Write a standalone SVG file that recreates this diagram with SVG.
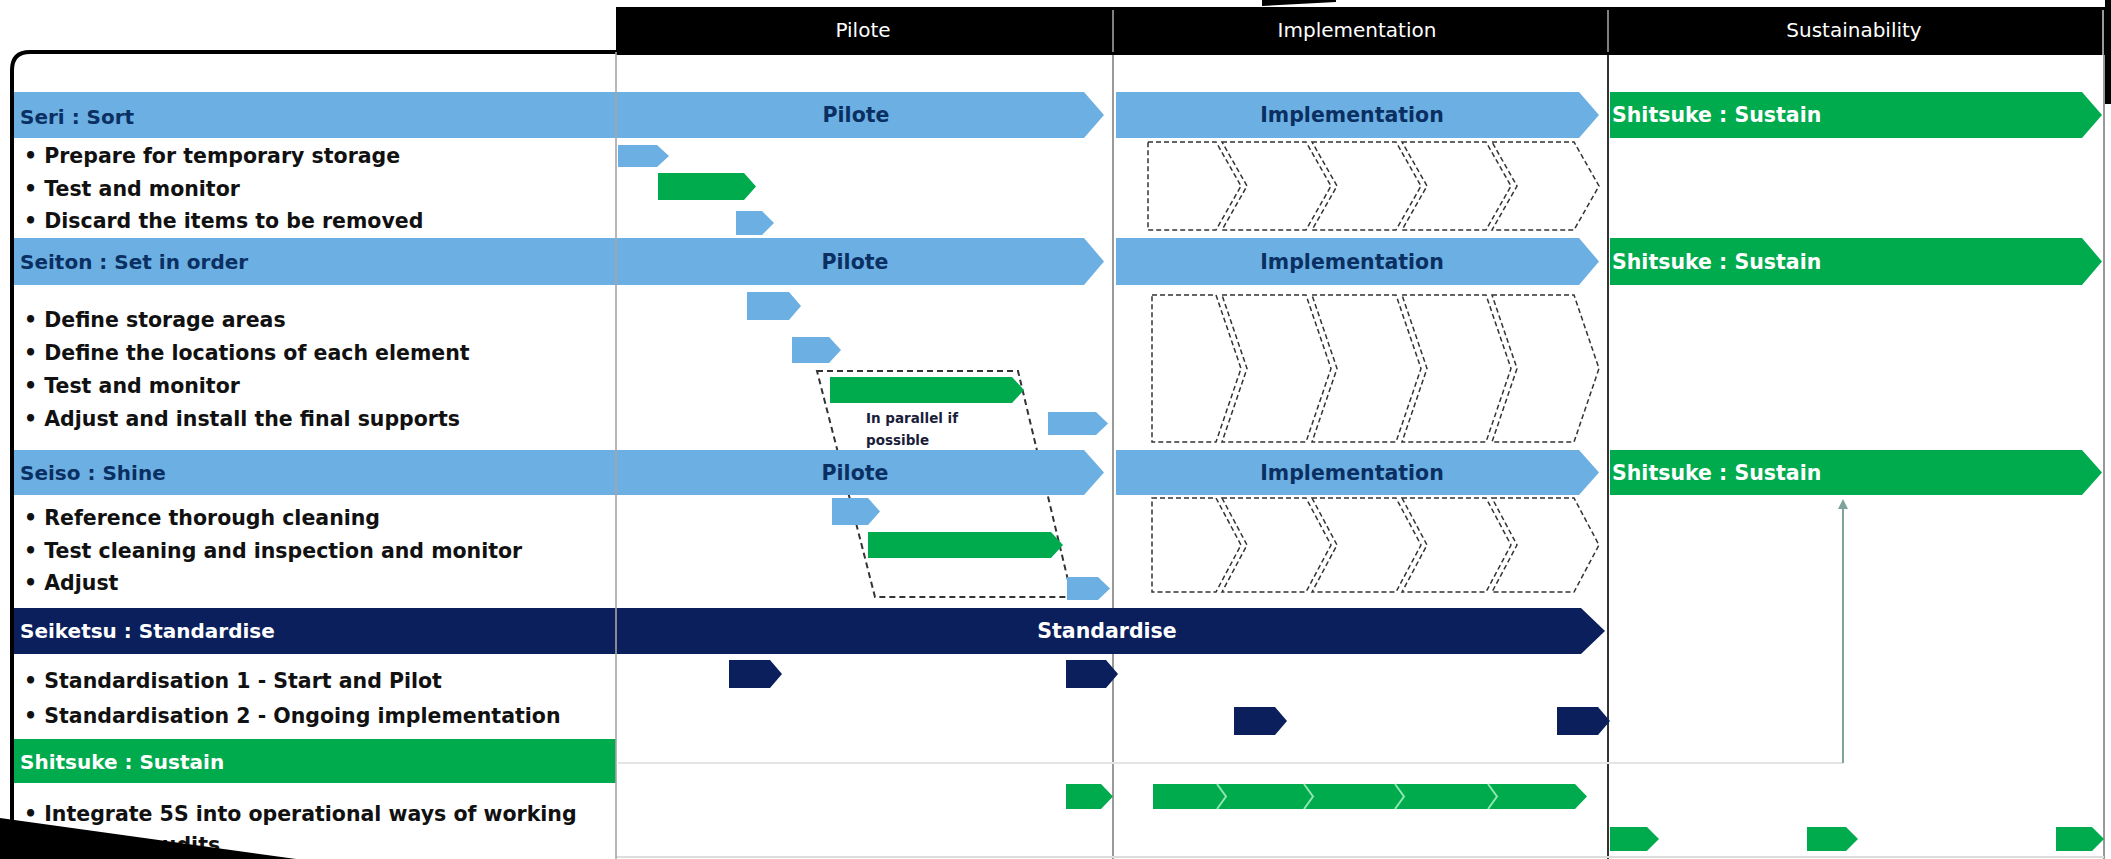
<svg xmlns="http://www.w3.org/2000/svg" width="2111" height="859" viewBox="0 0 2111 859">
<defs>
<style>
.hdr{font-family:"DejaVu Sans",sans-serif;font-size:20px;fill:#fff;text-anchor:middle}
.ttl{font-family:"DejaVu Sans",sans-serif;font-size:20px;font-weight:bold}
.bul{font-family:"DejaVu Sans",sans-serif;font-size:20.5px;font-weight:bold;fill:#111}
.band{font-family:"DejaVu Sans",sans-serif;font-size:20.5px;font-weight:bold}
.note{font-family:"DejaVu Sans",sans-serif;font-size:13.5px;font-weight:bold;fill:#1a1d3a}
.lb{fill:#6CAFE2}
.gr{fill:#00AB4E}
.nv{fill:#0A1F5C}
.dash{fill:none;stroke:#333;stroke-width:1.5;stroke-dasharray:5 3}
.dk{fill:#0A2F62}
.wt{fill:#fff}
</style>
<marker id="ah" viewBox="0 0 10 10" refX="5" refY="5" markerWidth="5" markerHeight="5" orient="auto">
<path d="M0,0 L10,5 L0,10 Z" fill="#7FA39A"/>
</marker>
</defs>
<rect x="0" y="0" width="2111" height="859" fill="#fff"/>

<!-- frame and grid -->
<g id="frame">
<path d="M12,859 V70 Q12,52 30,52 H616" fill="none" stroke="#000" stroke-width="4"/>
<line x1="1113" y1="55" x2="1113" y2="859" stroke="#9a9a9a" stroke-width="2"/>
<line x1="1608" y1="55" x2="1608" y2="859" stroke="#333" stroke-width="2"/>
<line x1="2104" y1="55" x2="2104" y2="859" stroke="#777" stroke-width="1.5"/>
<line x1="616" y1="857" x2="2104" y2="857" stroke="#ddd" stroke-width="2"/>
</g>

<!-- header -->
<g id="header">
<rect x="616" y="7" width="1489" height="48" fill="#000"/>
<line x1="1113" y1="10" x2="1113" y2="52" stroke="#aaa" stroke-width="1.5"/>
<line x1="1608" y1="10" x2="1608" y2="52" stroke="#aaa" stroke-width="1.5"/>
<line x1="2103" y1="10" x2="2103" y2="55" stroke="#ccc" stroke-width="1.5"/>
<text class="hdr" x="863" y="37">Pilote</text>
<text class="hdr" x="1357" y="37">Implementation</text>
<text class="hdr" x="1854" y="37">Sustainability</text>
</g>

<!-- dashed parallel box -->
<g id="parallel">
<polygon points="817,371 1018,371 1072,597 875,597" fill="none" stroke="#333" stroke-width="2" stroke-dasharray="6 4"/>
<text class="note" x="866" y="423">In parallel if</text>
<text class="note" x="866" y="445">possible</text>
</g>

<!-- dashed implementation chevrons -->
<g id="impl-boxes">
<path class="dash" d="M1148,142 H1216 L1241,186 L1216,230 H1148 Z"/>
<path class="dash" d="M1222,142 H1306 L1331,186 L1306,230 H1222 L1247,186 Z"/>
<path class="dash" d="M1312,142 H1396 L1421,186 L1396,230 H1312 L1337,186 Z"/>
<path class="dash" d="M1402,142 H1486 L1511,186 L1486,230 H1402 L1427,186 Z"/>
<path class="dash" d="M1492,142 H1574 L1599,186 L1574,230 H1492 L1517,186 Z"/>

<path class="dash" d="M1152,295 H1216 L1241,368.5 L1216,442 H1152 Z"/>
<path class="dash" d="M1222,295 H1306 L1331,368.5 L1306,442 H1222 L1247,368.5 Z"/>
<path class="dash" d="M1312,295 H1396 L1421,368.5 L1396,442 H1312 L1337,368.5 Z"/>
<path class="dash" d="M1402,295 H1486 L1511,368.5 L1486,442 H1402 L1427,368.5 Z"/>
<path class="dash" d="M1492,295 H1574 L1599,368.5 L1574,442 H1492 L1517,368.5 Z"/>

<path class="dash" d="M1152,498 H1216 L1241,545 L1216,592 H1152 Z"/>
<path class="dash" d="M1222,498 H1306 L1331,545 L1306,592 H1222 L1247,545 Z"/>
<path class="dash" d="M1312,498 H1396 L1421,545 L1396,592 H1312 L1337,545 Z"/>
<path class="dash" d="M1402,498 H1486 L1511,545 L1486,592 H1402 L1427,545 Z"/>
<path class="dash" d="M1492,498 H1574 L1599,545 L1574,592 H1492 L1517,545 Z"/>
</g>

<!-- Row 1: Seri -->
<g id="row-seri">
<path class="lb" d="M14,92 H1084 L1104,115 L1084,138 H14 Z"/>
<path class="lb" d="M1116,92 H1579 L1599,115 L1579,138 H1116 Z"/>
<path class="gr" d="M1610,92 H2082 L2102,115 L2082,138 H1610 Z"/>
<text class="ttl dk" x="20" y="124">Seri : Sort</text>
<text class="band dk" x="856" y="122" text-anchor="middle">Pilote</text>
<text class="band dk" x="1352" y="122" text-anchor="middle">Implementation</text>
<text class="band wt" x="1612" y="122">Shitsuke : Sustain</text>
<text class="bul" x="24" y="162.5">• Prepare for temporary storage</text>
<text class="bul" x="24" y="195.5">• Test and monitor</text>
<text class="bul" x="24" y="227.5">• Discard the items to be removed</text>
<path class="lb" d="M618,145 H657 L669,156 L657,167 H618 Z"/>
<path class="gr" d="M658,173 H744 L756,186.5 L744,200 H658 Z"/>
<path class="lb" d="M736,211 H762 L774,223 L762,235 H736 Z"/>
</g>

<!-- Row 2: Seiton -->
<g id="row-seiton">
<path class="lb" d="M14,238 H1084 L1104,261.5 L1084,285 H14 Z"/>
<path class="lb" d="M1116,238 H1579 L1599,261.5 L1579,285 H1116 Z"/>
<path class="gr" d="M1610,238 H2082 L2102,261.5 L2082,285 H1610 Z"/>
<text class="ttl dk" x="20" y="269">Seiton : Set in order</text>
<text class="band dk" x="855" y="269" text-anchor="middle">Pilote</text>
<text class="band dk" x="1352" y="269" text-anchor="middle">Implementation</text>
<text class="band wt" x="1612" y="269">Shitsuke : Sustain</text>
<text class="bul" x="24" y="326.5">• Define storage areas</text>
<text class="bul" x="24" y="359.5">• Define the locations of each element</text>
<text class="bul" x="24" y="392.5">• Test and monitor</text>
<text class="bul" x="24" y="425.5">• Adjust and install the final supports</text>
<path class="lb" d="M747,292 H789 L801,306 L789,320 H747 Z"/>
<path class="lb" d="M792,337 H829 L841,350 L829,363 H792 Z"/>
<path class="gr" d="M830,377 H1012 L1024,390 L1012,403 H830 Z"/>
<path class="lb" d="M1048,412 H1096 L1108,423.5 L1096,435 H1048 Z"/>
</g>

<!-- Row 3: Seiso -->
<g id="row-seiso">
<path class="lb" d="M14,450 H1084 L1104,472.5 L1084,495 H14 Z"/>
<path class="lb" d="M1116,450 H1579 L1599,472.5 L1579,495 H1116 Z"/>
<path class="gr" d="M1610,450 H2082 L2102,472.5 L2082,495 H1610 Z"/>
<text class="ttl dk" x="20" y="480">Seiso : Shine</text>
<text class="band dk" x="855" y="480" text-anchor="middle">Pilote</text>
<text class="band dk" x="1352" y="480" text-anchor="middle">Implementation</text>
<text class="band wt" x="1612" y="480">Shitsuke : Sustain</text>
<text class="bul" x="24" y="524.5">• Reference thorough cleaning</text>
<text class="bul" x="24" y="557.5">• Test cleaning and inspection and monitor</text>
<text class="bul" x="24" y="589.5">• Adjust</text>
<path class="lb" d="M832,498 H868 L880,511.5 L868,525 H832 Z"/>
<path class="gr" d="M868,532 H1051 L1063,545 L1051,558 H868 Z"/>
<path class="lb" d="M1067,577 H1098 L1110,588.5 L1098,600 H1067 Z"/>
</g>

<!-- Row 4: Seiketsu -->
<g id="row-seiketsu">
<path class="nv" d="M14,608 H1581 L1605,631 L1581,654 H14 Z"/>
<text class="ttl wt" x="20" y="638">Seiketsu : Standardise</text>
<text class="band wt" x="1107" y="638" text-anchor="middle">Standardise</text>
<text class="bul" x="24" y="687.5">• Standardisation 1 - Start and Pilot</text>
<text class="bul" x="24" y="722.5">• Standardisation 2 - Ongoing implementation</text>
<path class="nv" d="M729,660 H770 L782,674 L770,688 H729 Z"/>
<path class="nv" d="M1066,660 H1106 L1118,674 L1106,688 H1066 Z"/>
<path class="nv" d="M1234,707 H1275 L1287,721 L1275,735 H1234 Z"/>
<path class="nv" d="M1557,707 H1598 L1610,721 L1598,735 H1557 Z"/>
</g>

<!-- Row 5: Shitsuke -->
<g id="row-shitsuke">
<rect class="gr" x="14" y="739" width="602" height="44"/>
<text class="ttl wt" x="20" y="769">Shitsuke : Sustain</text>
<text class="bul" x="24" y="820.5">• Integrate 5S into operational ways of working</text>
<text class="bul" x="148" y="852">audits</text>
<path class="gr" d="M1066,784 H1101 L1113,796.5 L1101,809 H1066 Z"/>
<path class="gr" d="M1153,784 H1575 L1587,796.5 L1575,809 H1153 Z"/>
<g fill="none" stroke="#8EE6B0" stroke-width="2">
<path d="M1217,784 L1226,796.5 L1217,809"/>
<path d="M1304,784 L1313,796.5 L1304,809"/>
<path d="M1395,784 L1404,796.5 L1395,809"/>
<path d="M1488,784 L1497,796.5 L1488,809"/>
</g>
<path class="gr" d="M1610,827 H1647 L1659,839 L1647,851 H1610 Z"/>
<path class="gr" d="M1807,827 H1846 L1858,839 L1846,851 H1807 Z"/>
<path class="gr" d="M2056,827 H2092 L2104,839 L2092,851 H2056 Z"/>
</g>

<!-- connectors -->
<g id="connectors">
<line x1="618" y1="763" x2="1843" y2="763" stroke="#e4e4e4" stroke-width="2"/>
<line x1="1843" y1="763" x2="1843" y2="504" stroke="#7FA39A" stroke-width="2" marker-end="url(#ah)"/>
</g>

<!-- overlay lines & page edges -->
<g id="edges">
<line x1="616" y1="52" x2="616" y2="859" stroke="#a6a6a6" stroke-width="2" opacity="0.8"/>
<polygon points="1262,0 1336,0 1336,2 1262,6" fill="#000"/>
<rect x="2105" y="0" width="6" height="104" fill="#000"/>
<polygon points="0,818 296,859 0,859" fill="#000"/>
</g>
</svg>
